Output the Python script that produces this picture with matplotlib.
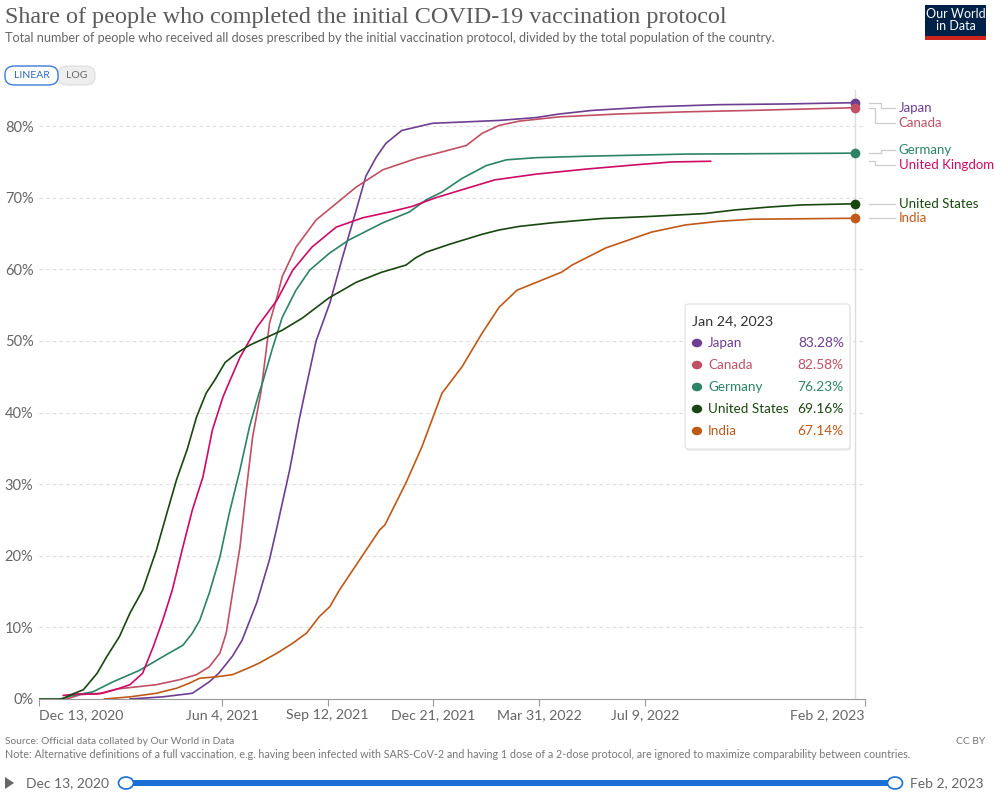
import numpy as np
import pandas as pd
from matplotlib import pyplot as plt
from matplotlib.patches import FancyBboxPatch, Rectangle, Circle, Polygon
import matplotlib.transforms as mtransforms

# Share of people who completed the initial COVID-19 vaccination protocol
# values; x = days since Dec 13, 2020, y = percent

start = pd.Timestamp("2020-12-13")
end = pd.Timestamp("2023-02-02")
hover_date = pd.Timestamp("2023-01-24")

japan_days = [86, 117, 145, 152, 161, 170, 183, 192, 206, 218, 225, 237, 246, 251, 262, 275, 287, 300, 309,
              319, 328, 343, 372, 404, 435, 470, 492, 523, 579, 642, 706, 772]
japan_vals = [0, 0.3, 0.8, 1.5, 2.4, 3.6, 6, 8.2, 13.5, 19.5, 24, 32, 39, 42.5, 50, 55.3, 61.7, 68.3, 73,
              75.7, 77.6, 79.4, 80.4, 80.6, 80.8, 81.2, 81.7, 82.2, 82.7, 83.0, 83.1, 83.28]

canada_days = [26, 39, 58, 74, 111, 133, 149, 161, 171, 177, 183, 190, 196, 202, 210, 218, 225, 230, 243,
               262, 281, 300, 325, 357, 381, 404, 419, 435, 454, 492, 548, 611, 674, 772]
canada_vals = [0, 0.6, 0.8, 1.4, 2.0, 2.7, 3.4, 4.5, 6.4, 9.2, 14.8, 21.2, 29.2, 36.6, 43, 52.5, 56.1, 59, 63.1,
               66.9, 69.2, 71.5, 73.9, 75.5, 76.4, 77.3, 79, 80.1, 80.7, 81.3, 81.7, 82.0, 82.2, 82.58]

germany_days = [20, 29, 51, 70, 95, 117, 136, 145, 152, 161, 171, 180, 190, 199, 208, 211, 221, 230, 243,
                256, 275, 293, 325, 350, 366, 381, 400, 423, 442, 470, 517, 611, 772]
germany_vals = [0, 0.4, 1.0, 2.4, 4.0, 5.9, 7.5, 9.2, 11, 14.8, 19.8, 26, 32, 38, 42.7, 44, 49.1, 53.3, 57.1,
                59.9, 62.3, 64.1, 66.5, 68, 69.7, 70.8, 72.7, 74.5, 75.3, 75.6, 75.8, 76.1, 76.23]

uk_days = [23, 36, 55, 60, 74, 86, 98, 108, 117, 126, 136, 145, 155, 164, 174, 178, 190, 206, 225, 240,
           258, 281, 306, 331, 353, 375, 404, 431, 470, 517, 564, 598, 635]
uk_vals = [0.5, 0.7, 0.7, 0.8, 1.4, 2.0, 3.6, 7.3, 11, 15.2, 21.2, 26.4, 31, 37.6, 42.2, 43.6, 47.7, 51.9, 55.7, 59.9,
           63.1, 65.9, 67.2, 68, 68.8, 70, 71.3, 72.5, 73.3, 74, 74.6, 75.0, 75.1]

us_days = [0, 22, 32, 42, 55, 64, 76, 86, 98, 111, 121, 130, 140, 149, 158, 166, 176, 187, 199, 230, 249,
           274, 300, 324, 347, 356, 366, 388, 419, 435, 454, 485, 532, 579, 630, 658, 690, 721, 772]
us_vals = [0, 0, 0.7, 1.3, 3.6, 5.9, 8.7, 12, 15.2, 20.8, 26, 30.6, 34.8, 39.4, 42.7, 44.5, 47, 48.3, 49.4, 51.5, 53.2,
           56, 58.2, 59.6, 60.6, 61.6, 62.4, 63.5, 64.9, 65.5, 66, 66.5, 67.1, 67.4, 67.8, 68.3, 68.7, 69.0, 69.16]

india_days = [62, 86, 111, 130, 142, 152, 168, 183, 196, 208, 225, 240, 253, 265, 275, 284, 303, 322, 327,
              347, 362, 381, 400, 419, 435, 452, 494, 504, 536, 579, 611, 642, 674, 772]
india_vals = [0, 0.3, 0.8, 1.5, 2.2, 2.9, 3.1, 3.4, 4.2, 5, 6.4, 7.8, 9.2, 11.5, 12.9, 15.2, 19.4, 23.6, 24.3,
              30.2, 35.2, 42.7, 46.4, 51.1, 54.7, 57.1, 59.6, 60.6, 63, 65.2, 66.2, 66.7, 67.0, 67.14]

countries = ["Japan", "Canada", "Germany", "United Kingdom", "United States", "India"]
series = {
    "Japan": (japan_days, japan_vals),
    "Canada": (canada_days, canada_vals),
    "Germany": (germany_days, germany_vals),
    "United Kingdom": (uk_days, uk_vals),
    "United States": (us_days, us_vals),
    "India": (india_days, india_vals),
}
colors = {
    "Japan": "#6D3E91",
    "Canada": "#C15065",
    "Germany": "#2C8465",
    "United Kingdom": "#CF0A66",
    "United States": "#18470F",
    "India": "#C05917",
}
tooltip_countries = ["Japan", "Canada", "Germany", "United States", "India"]
tick_dates = ["2020-12-13", "2021-06-04", "2021-09-12", "2021-12-21", "2022-03-31", "2022-07-09", "2023-02-02"]
tick_labels = ["Dec 13, 2020", "Jun 4, 2021", "Sep 12, 2021", "Dec 21, 2021", "Mar 31, 2022", "Jul 9, 2022", "Feb 2, 2023"]
y_ticks = [0, 10, 20, 30, 40, 50, 60, 70, 80]

plt.rcParams['font.family'] = ['Lato', 'DejaVu Sans']

W, H = 994, 792
fig = plt.figure(figsize=(W / 100, H / 100), dpi=100)


def fx(x):
    return x / W


def fy(y):
    return 1 - y / H


# plot area in pixels: left 39, right 865, top 90, bottom 699
ax = fig.add_axes([fx(39), fy(699), fx(865) - fx(39), fy(90) - fy(699)])
ax.set_xlim(start, end)
ax.set_ylim(0, 85.05)

for c in countries:
    d, v = series[c]
    dates = start + pd.to_timedelta(d, unit="D")
    ax.plot(dates, v, color=colors[c], lw=1.2, solid_joinstyle="round", zorder=3)
    if c in tooltip_countries:
        ax.plot([dates[-1]], [v[-1]], "o", color=colors[c], ms=6, zorder=5)

# hover line
ax.axvline(hover_date, color="#dddddd", lw=1, zorder=1)

# gridlines
for yt in y_ticks[1:]:
    ax.axhline(yt, color="#dddddd", lw=0.8, ls=(0, (3, 3)), zorder=0)

ax.set_yticks(y_ticks)
ax.set_yticklabels([f"{t}%" for t in y_ticks])
ax.set_xticks(pd.to_datetime(tick_dates))
ax.set_xticklabels(tick_labels)
ax.tick_params(axis="y", length=0, pad=4, labelsize=10.5, labelcolor="#666666")
ax.tick_params(axis="x", length=5, width=0.8, color="#999999", pad=2, labelsize=10.2, labelcolor="#666666")
xlabels = ax.get_xticklabels()
xlabels[0].set_ha("left")
xlabels[-1].set_ha("right")
for s in ["top", "right", "left"]:
    ax.spines[s].set_visible(False)
ax.spines["bottom"].set_color("#999999")
ax.spines["bottom"].set_linewidth(0.8)

# right-hand labels with connector lines (x in axes fraction, y in data)
trans = mtransforms.blended_transform_factory(ax.transAxes, ax.transData)
label_y = {"Japan": 82.5, "Canada": 80.4, "Germany": 76.7, "United Kingdom": 74.6,
           "United States": 69.16, "India": 67.14}
elbow_x = {"Japan": 1.019, "Canada": 1.012, "Germany": 1.019, "United Kingdom": 1.012,
           "United States": 1.015, "India": 1.015}
for c in countries:
    v_end = series[c][1][-1]
    ly = label_y[c]
    ex = elbow_x[c]
    ax.plot([1.005, ex, ex, 1.036], [v_end, v_end, ly, ly], color="#cccccc", lw=0.9,
            transform=trans, clip_on=False)
    ax.text(1.041, ly, c, color=colors[c], fontsize=9.5, va="center", ha="left", transform=trans)

# tooltip box
box = FancyBboxPatch((fx(685), fy(449)), fx(850) - fx(685), fy(304) - fy(449),
                     boxstyle="round,pad=0,rounding_size=0.004", transform=fig.transFigure,
                     facecolor="white", edgecolor="#e0e0e0", lw=0.8, zorder=10)
shadow = FancyBboxPatch((fx(686), fy(451)), fx(850) - fx(685), fy(304) - fy(449),
                        boxstyle="round,pad=0,rounding_size=0.004", transform=fig.transFigure,
                        facecolor="#eeeeee", edgecolor="none", zorder=9)
fig.patches.extend([shadow, box])
fig.text(fx(692), fy(321), f"{hover_date.strftime('%b')} {hover_date.day}, {hover_date.year}", fontsize=10.3,
         color="#333333", va="center", zorder=11)
for i, c in enumerate(tooltip_countries):
    yy = fy(343 + 22 * i)
    fig.patches.append(Circle((fx(697), yy), 4.5 / W, transform=fig.transFigure, color=colors[c], zorder=11))
    fig.text(fx(708), yy, c, fontsize=9.7, color=colors[c], va="center", zorder=11)
    fig.text(fx(844), yy, f"{series[c][1][-1]:.2f}%", fontsize=9.9, color=colors[c], va="center", ha="right",
             zorder=11)

# header
fig.text(fx(5), fy(17), "Share of people who completed the initial COVID-19 vaccination protocol",
         family="Liberation Serif", fontsize=17.4, color="#5b5b5b", va="center")
fig.text(fx(5), fy(38), "Total number of people who received all doses prescribed by the initial vaccination "
                        "protocol, divided by the total population of the country.",
         fontsize=9.1, color="#666666", va="center")

# LINEAR / LOG toggle
fig.patches.append(FancyBboxPatch((fx(58), fy(85)), fx(95) - fx(58), fy(66) - fy(85),
                                  boxstyle="round,pad=0,rounding_size=0.01", transform=fig.transFigure,
                                  facecolor="#eeeeee", edgecolor="#dddddd", lw=0.8))
fig.patches.append(FancyBboxPatch((fx(5), fy(85)), fx(58) - fx(5), fy(66) - fy(85),
                                  boxstyle="round,pad=0,rounding_size=0.01", transform=fig.transFigure,
                                  facecolor="white", edgecolor="#3b7dd8", lw=1.0))
fig.text(fx(31.5), fy(75.5), "LINEAR", fontsize=7.5, color="#2a6bbf", ha="center", va="center")
fig.text(fx(76.5), fy(75.5), "LOG", fontsize=7.5, color="#666666", ha="center", va="center")

# OWID logo
fig.patches.append(Rectangle((fx(925), fy(40)), fx(61), fy(0) - fy(35), transform=fig.transFigure,
                             facecolor="#002147", edgecolor="none"))
fig.patches.append(Rectangle((fx(925), fy(40)), fx(61), fy(0) - fy(4), transform=fig.transFigure,
                             facecolor="#ce261e", edgecolor="none"))
fig.text(fx(955.5), fy(20), "Our World\nin Data", fontsize=9, color="white", ha="center", va="center",
         linespacing=1.0)

# footer
fig.text(fx(5), fy(742), "Source: Official data collated by Our World in Data", fontsize=7.4, color="#777777",
         va="center")
fig.text(fx(5), fy(755), "Note: Alternative definitions of a full vaccination, e.g. having been infected with "
                         "SARS-CoV-2 and having 1 dose of a 2-dose protocol, are ignored to maximize "
                         "comparability between countries.", fontsize=7.75, color="#777777", va="center")
fig.text(fx(985), fy(742), "CC BY", fontsize=7.4, color="#777777", va="center", ha="right")

# timeline
fig.patches.append(Polygon([[fx(5), fy(777)], [fx(5), fy(789)], [fx(14), fy(783)]], closed=True,
                           transform=fig.transFigure, facecolor="#666666", edgecolor="none"))
fig.text(fx(26), fy(783), f"{start.strftime('%b')} {start.day}, {start.year}", fontsize=10, color="#666666",
         va="center")
fig.text(fx(910), fy(783), f"{end.strftime('%b')} {end.day}, {end.year}", fontsize=10, color="#666666",
         va="center")
fig.patches.append(Rectangle((fx(126), fy(786)), fx(895) - fx(126), fy(780) - fy(786),
                             transform=fig.transFigure, facecolor="#1a6fd4", edgecolor="none"))
for cx in [126, 895]:
    fig.patches.append(Circle((fx(cx), fy(783)), 7.5 / W, transform=fig.transFigure, facecolor="white",
                              edgecolor="#1a6fd4", lw=1.2, zorder=5))

fig.savefig("out.png", dpi=100)
